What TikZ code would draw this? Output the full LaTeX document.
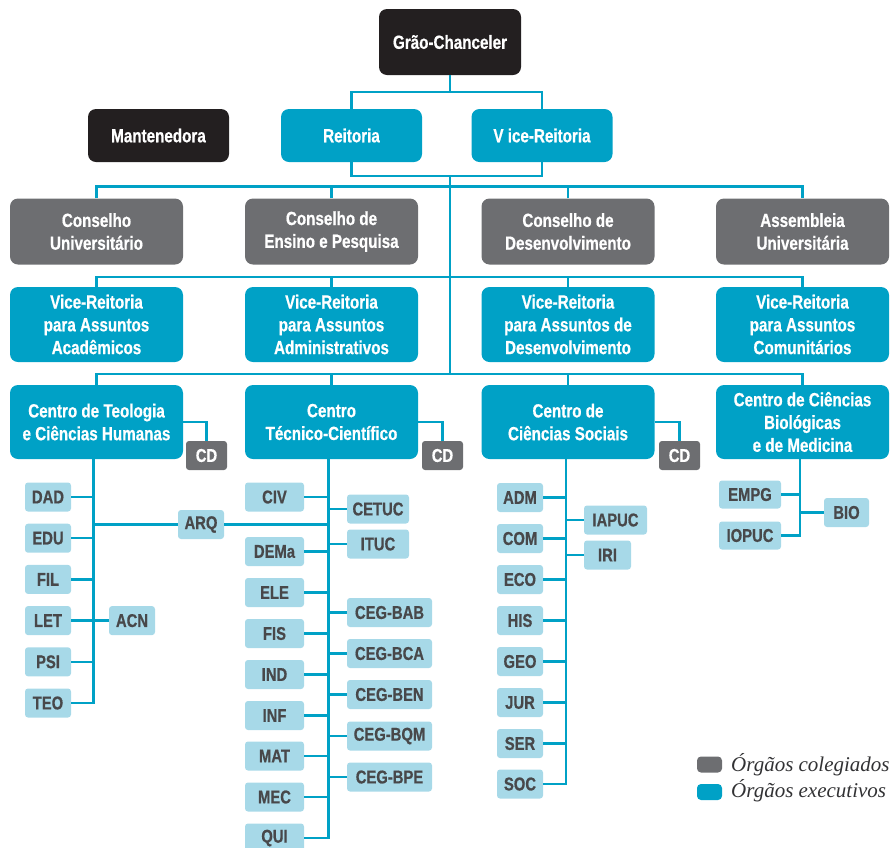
\documentclass[tikz,border=0pt]{standalone}
\usepackage{fontspec}
\newfontfamily\condf[FakeStretch=0.8, BoldFeatures={FakeBold=0.6}]{Liberation Sans}
\newfontfamily\legf{Liberation Serif}
\definecolor{pucblue}{RGB}{0,161,198}
\definecolor{pucgray}{RGB}{109,110,113}
\definecolor{pucblack}{RGB}{35,31,32}
\definecolor{puclight}{RGB}{167,217,232}
\definecolor{puctext}{RGB}{72,72,74}
\definecolor{legtxt}{RGB}{50,50,52}
\begin{document}
\begin{tikzpicture}[x=1pt,y=-1pt,
  box/.style={rounded corners=8pt, text=white, align=center, inner sep=0pt,
    font=\condf\bfseries\fontsize{19}{22.8}\selectfont},
  topbox/.style={box, minimum width=141pt, minimum height=53pt},
  bigbox/.style={box, minimum width=173pt},
  dept/.style={rounded corners=3pt, fill=puclight, text=puctext, inner sep=0pt,
    minimum height=29pt, font=\condf\bfseries\fontsize{18.5}{22}\selectfont},
  cdbox/.style={rounded corners=3pt, fill=pucgray, text=white, inner sep=0pt,
    minimum width=41pt, minimum height=29pt, font=\condf\bfseries\fontsize{18.5}{22}\selectfont},
  conn/.style={draw=pucblue, line width=2.5pt},
  swatch/.style={rounded corners=4pt, inner sep=0pt, minimum width=25pt, minimum height=16pt},
  legtext/.style={anchor=west, inner sep=0pt, text=legtxt, font=\legf\itshape\fontsize{21}{24}\selectfont}
]
\useasboundingbox (0,0) rectangle (890,847);
\clip (0,0) rectangle (890,847);

% ---------- top ----------
\node[topbox, fill=pucblack, minimum width=142pt, minimum height=66pt] (gc) at (450,42) {Grão-Chanceler};
\node[topbox, fill=pucblack] (mant) at (158.5,135.5) {Mantenedora};
\node[topbox, fill=pucblue] (reit) at (351.5,135.5) {Reitoria};
\node[topbox, fill=pucblue] (vreit) at (542,135.5) {V ice-Reitoria};

% ---------- councils ----------
\node[bigbox, fill=pucgray, minimum height=66pt] (cu) at (96.5,231.5) {Conselho\\Universitário};
\node[bigbox, fill=pucgray, minimum height=66pt] (cep) at (331.5,231.5) {Conselho de\\Ensino e Pesquisa};
\node[bigbox, fill=pucgray, minimum height=66pt] (cdes) at (568,231.5) {Conselho de\\Desenvolvimento};
\node[bigbox, fill=pucgray, minimum height=66pt] (ae) at (802.5,231.5) {Assembleia\\Universitária};

% ---------- vice-reitorias ----------
\node[bigbox, fill=pucblue, minimum height=75pt] (vra) at (96.5,324.5) {Vice-Reitoria\\para Assuntos\\Acadêmicos};
\node[bigbox, fill=pucblue, minimum height=75pt] (vrad) at (331.5,324.5) {Vice-Reitoria\\para Assuntos\\Administrativos};
\node[bigbox, fill=pucblue, minimum height=75pt] (vrd) at (568,324.5) {Vice-Reitoria\\para Assuntos de\\Desenvolvimento};
\node[bigbox, fill=pucblue, minimum height=75pt] (vrc) at (802.5,324.5) {Vice-Reitoria\\para Assuntos\\Comunitários};

% ---------- centros ----------
\node[bigbox, fill=pucblue, minimum height=74pt] (ctch) at (96.5,422) {Centro de Teologia\\e Ciências Humanas};
\node[bigbox, fill=pucblue, minimum height=74pt] (ctc) at (331.5,422) {Centro\\Técnico-Científico};
\node[bigbox, fill=pucblue, minimum height=74pt] (ccs) at (568,422) {Centro de\\Ciências Sociais};
\node[bigbox, fill=pucblue, minimum height=74pt] (ccbm) at (802.5,422) {Centro de Ciências\\Biológicas\\e de Medicina};

\node[cdbox] (cd1) at (206.5,455.5) {CD};
\node[cdbox] (cd2) at (442.5,455.5) {CD};
\node[cdbox] (cd3) at (679.5,455.5) {CD};

% ---------- top connectors ----------
\coordinate (j1) at (450,92);
\coordinate (j2) at (450,176);
\coordinate (j4) at (450,374);
\draw[conn] (gc.south) -- (j1);
\draw[conn] (reit.north) |- (j1) -| (vreit.north);
\draw[conn] (reit.south) |- (j2) -| (vreit.south);
\draw[conn] (j2) -- (j4);
\draw[conn] (cu.north) -- ++(0,-12) -| (ae.north);
\draw[conn] (cep.north) -- ++(0,-12);
\draw[conn] (cdes.north) -- ++(0,-12);
\draw[conn] (vra.north) -- ++(0,-10) -| (vrc.north);
\draw[conn] (vrad.north) -- ++(0,-10);
\draw[conn] (vrd.north) -- ++(0,-10);
\draw[conn] (ctch.north) -- ++(0,-11) -| (ccbm.north);
\draw[conn] (ctc.north) -- ++(0,-11);
\draw[conn] (ccs.north) -- ++(0,-11);
\draw[conn] (ctch.east) -| (cd1.north);
\draw[conn] (ctc.east) -| (cd2.north);
\draw[conn] (ccs.east) -| (cd3.north);

% ---------- column 1 ----------
\coordinate (sp1) at ([xshift=-3pt]ctch.south);
\foreach \n/\t/\y in {dad/DAD/497, edu/EDU/538.2, fil/FIL/579.4, let/LET/620.6, psi/PSI/661.8, teo/TEO/703}
  \node[dept, minimum width=46pt] (\n) at (48,\y) {\t};
\node[dept, minimum width=46pt] (arq) at (201,524.5) {ARQ};
\node[dept, minimum width=46pt] (acn) at (132,620.6) {ACN};
\draw[conn] (sp1) |- (teo.east);
\foreach \n in {dad,edu,fil,let,psi}
  \draw[conn] (\n.east) -- (\n.east -| sp1);
\draw[conn] (acn.west) -- (acn.west -| sp1);
\draw[conn] (arq.west) -- (arq.west -| sp1);

% ---------- column 2 ----------
\coordinate (sp2) at ([xshift=-3pt]ctc.south);
\foreach \n/\t/\y in {civ/CIV/497, dema/DEMa/551.5, ele/ELE/592.5, fis/FIS/633.5, ind/IND/674.5, inf/INF/715.5, mat/MAT/756, mec/MEC/797, qui/QUI/838}
  \node[dept, minimum width=59pt] (\n) at (274.5,\y) {\t};
\node[dept, minimum width=62pt] (cetuc) at (378,509) {CETUC};
\node[dept, minimum width=62pt] (ituc) at (378,544) {ITUC};
\foreach \n/\t/\y in {bab/CEG-BAB/612.5, bca/CEG-BCA/653.5, ben/CEG-BEN/694.5, bqm/CEG-BQM/736, bpe/CEG-BPE/777}
  \node[dept, minimum width=85pt] (\n) at (389.5,\y) {\t};
\draw[conn] (sp2) |- (qui.east);
\foreach \n in {civ,dema,ele,fis,ind,inf,mat,mec}
  \draw[conn] (\n.east) -- (\n.east -| sp2);
\foreach \n in {cetuc,ituc,bab,bca,ben,bqm,bpe}
  \draw[conn] (\n.west) -- (\n.west -| sp2);
\draw[conn] (arq.east) -- (arq.east -| sp2);

% ---------- column 3 ----------
\coordinate (sp3) at ([xshift=-2pt]ccs.south);
\foreach \n/\t/\y in {adm/ADM/497.5, com/COM/538.5, eco/ECO/579.5, his/HIS/620.5, geo/GEO/661.5, jur/JUR/702.5, ser/SER/743.5, soc/SOC/784}
  \node[dept, minimum width=46pt] (\n) at (520,\y) {\t};
\node[dept, minimum width=63pt] (iapuc) at (615.5,520) {IAPUC};
\node[dept, minimum width=47pt] (iri) at (607.5,555) {IRI};
\draw[conn] (sp3) |- (soc.east);
\foreach \n in {adm,com,eco,his,geo,jur,ser}
  \draw[conn] (\n.east) -- (\n.east -| sp3);
\draw[conn] (iapuc.west) -- (iapuc.west -| sp3);
\draw[conn] (iri.west) -- (iri.west -| sp3);

% ---------- column 4 ----------
\coordinate (sp4) at ([xshift=-2.5pt]ccbm.south);
\node[dept, minimum width=62pt, minimum height=28pt] (empg) at (750,494.5) {EMPG};
\node[dept, minimum width=62pt, minimum height=28pt] (iopuc) at (750,535.5) {IOPUC};
\node[dept, minimum width=45pt] (bio) at (846.5,512.5) {BIO};
\draw[conn] (sp4) |- (iopuc.east);
\draw[conn] (empg.east) -- (empg.east -| sp4);
\draw[conn] (bio.west) -- (bio.west -| sp4);

% ---------- legend ----------
\node[swatch, fill=pucgray] (sw1) at (709.5,764.5) {};
\node[swatch, fill=pucblue] (sw2) at (709.5,792) {};
\node[legtext] (lt1) at (731,764.5) {Órgãos colegiados};
\node[legtext] (lt2) at (731,790.5) {Órgãos executivos};
\end{tikzpicture}
\end{document}
